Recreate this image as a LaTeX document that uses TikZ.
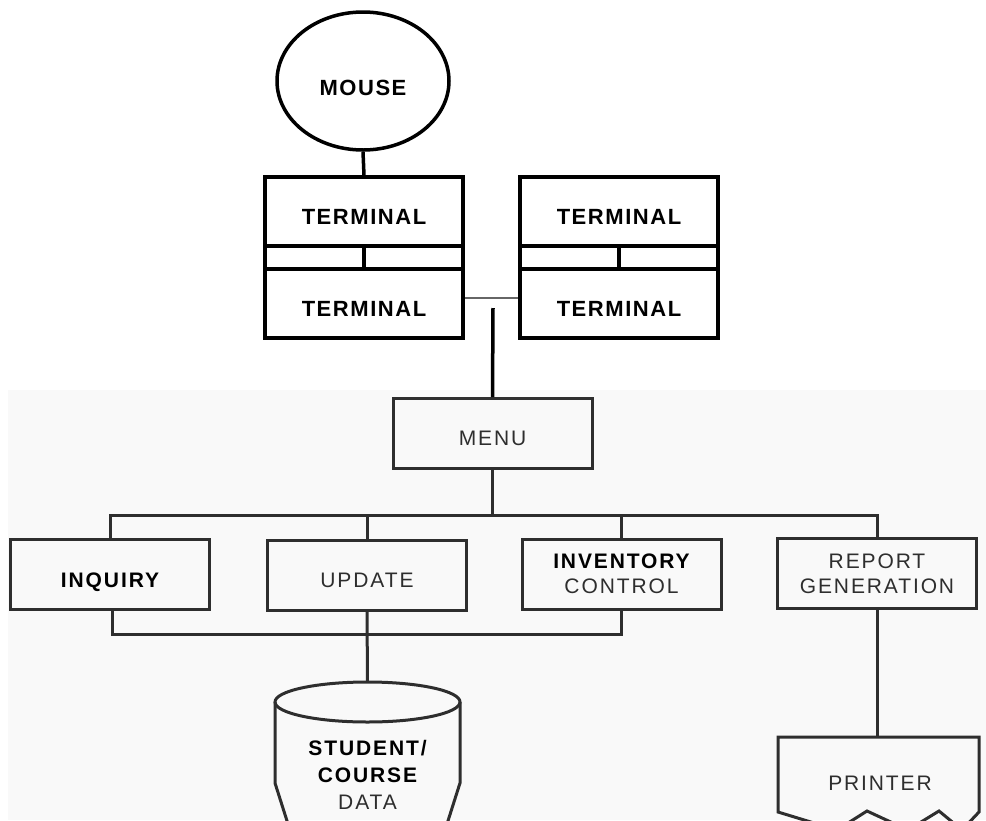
\documentclass[tikz,border=0pt]{standalone}
\usepackage{fontspec}
\setmainfont{Liberation Sans}
\newfontfamily\topfamily{Liberation Sans}[LetterSpace=7]
\newfontfamily\lowfamily{Liberation Sans}[LetterSpace=9]
\usetikzlibrary{shapes.geometric}

\definecolor{inkgray}{HTML}{2E2E2E}
\definecolor{papergray}{HTML}{F9F9F9}

\newcommand\topfont{\topfamily\bfseries\fontsize{22}{26}\selectfont}
\newcommand\lowfont{\lowfamily\fontsize{21}{25}\selectfont}
\newcommand\lowbold[1]{{\bfseries\color{black}#1}}

\tikzset{
  heavy/.style={draw=black, line width=3.5pt},
  termbox/.style={heavy, rectangle, minimum width=198pt, minimum height=69pt,
    inner sep=0pt, font=\topfont, text=black, text height=26pt, text depth=0pt},
  stripbox/.style={heavy, rectangle, minimum width=198pt, minimum height=23pt,
    inner sep=0pt},
  procbox/.style={draw=inkgray, line width=3pt, rectangle, minimum width=199pt,
    minimum height=70pt, inner sep=0pt, align=center, font=\lowfont, text=inkgray},
  onerow/.style={text height=25pt, text depth=0pt},
  wire/.style={draw=inkgray, line width=3pt},
  thinwire/.style={draw=black!60, line width=2pt},
  label/.style={inner sep=0pt, align=center, font=\lowfont, text=inkgray},
}

\begin{document}
\begin{tikzpicture}[x=1pt, y=-1pt, line join=miter]
  \useasboundingbox (0,0) rectangle (986,820);
  \clip (0,0) rectangle (986,820);

  % paper tone of the lower sheet
  \fill[papergray] (8,390) rectangle (986,820);

  % --- mouse and terminals ---
  \node[heavy, ellipse, minimum width=172pt, minimum height=138pt, inner sep=0pt,
        font=\topfont, text height=29pt, text depth=0pt] (mouse) at (363,81) {MOUSE};

  \node[termbox]  (t1) at (364,211.5) {TERMINAL};
  \node[stripbox] (s1) at (364,257.5) {};
  \node[termbox]  (t2) at (364,303.5) {TERMINAL};

  \node[termbox]  (t3) at (619,211.5) {TERMINAL};
  \node[stripbox] (s2) at (619,257.5) {};
  \node[termbox]  (t4) at (619,303.5) {TERMINAL};

  \draw[heavy] (mouse.south) -- (t1.north);
  \draw[heavy] (s1.north) -- (s1.south);
  \draw[heavy] (s2.north) -- (s2.south);

  % link between the two terminal pairs
  \coordinate (hub) at (493,298);
  \coordinate (drop) at (493,308);
  \draw[thinwire] (t2.east |- hub) -- (t4.west |- hub);

  % --- menu ---
  \node[procbox, onerow, text height=23pt] (menu) at (492.5,433.5) {MENU};
  \draw[heavy] (drop) -- (menu.north);

  % --- functions ---
  \node[procbox, onerow] (inq) at (110,574.5)   {\lowbold{INQUIRY}};
  \node[procbox, onerow] (upd) at (367,575)     {UPDATE};
  \node[procbox] (inv) at (621.5,574)   {\lowbold{INVENTORY}\\CONTROL};
  \node[procbox] (rep) at (877,573.5)   {REPORT\\GENERATION};

  \coordinate (busTop) at (0,515);
  \coordinate (busLow) at (0,634);
  \draw[wire] (menu.south) -- (menu.south |- busTop);
  \draw[wire] (inq.north) -- (inq.north |- busTop) -- (rep.north |- busTop) -- (rep.north);
  \draw[wire] (upd.north) -- (upd.north |- busTop);
  \draw[wire] (inv.north) -- (inv.north |- busTop);

  \coordinate (inqFoot) at (112,609);
  \draw[wire] (inqFoot) -- (inqFoot |- busLow) -- (inv.south |- busLow) -- (inv.south);

  % --- data store ---
  \coordinate (dbtop) at (367.5,682);
  \draw[wire] (upd.south) -- (dbtop);
  \draw[wire] (367.5,702) ellipse [x radius=92.5pt, y radius=20pt];
  \draw[wire] (275,702) -- (275,783) -- (288,824);
  \draw[wire] (460,702) -- (460,783) -- (447,824);
  \node[label] (db) at (367.5,775)
    {\lowbold{STUDENT/}\\[2pt]\lowbold{COURSE}\\[2pt]DATA};

  % --- printer ---
  \coordinate (prntop) at (877,737);
  \draw[wire] (rep.south) -- (prntop);
  \draw[wire] (778,812) -- (778,737) -- (979,737) -- (979,812)
    -- (962,830) -- (939,811) -- (908,830) -- (867,811) -- (837,830) -- cycle;
  \node[label] (prn) at (880,783) {PRINTER};
\end{tikzpicture}
\end{document}
